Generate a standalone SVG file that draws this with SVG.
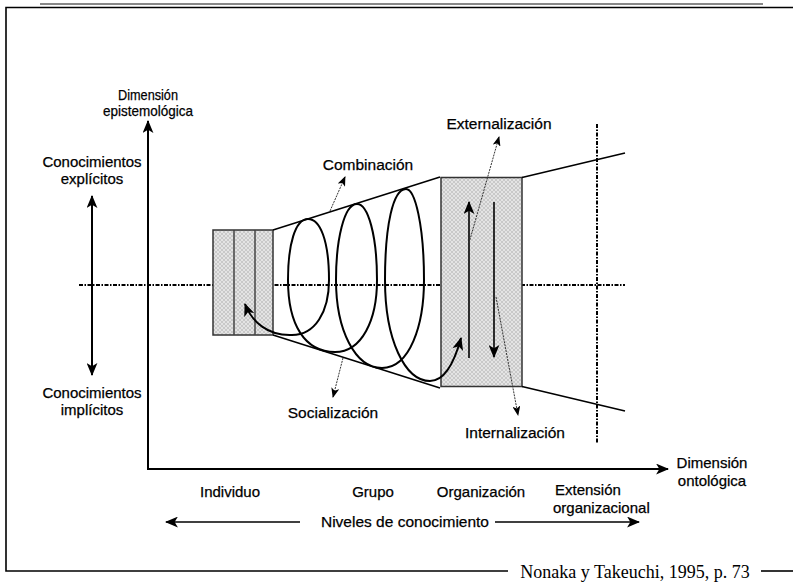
<svg xmlns="http://www.w3.org/2000/svg" width="793" height="583" viewBox="0 0 793 583">
<style>
.t{font-family:"Liberation Sans",Arial,sans-serif;font-size:15px;fill:#000;stroke:#000;stroke-width:0.25}
.c{text-anchor:middle}
.m{font-size:15.5px}
.frame{stroke:#000;stroke-width:1.6;fill:none}
.ax{stroke:#000;stroke-width:2;fill:none}
.dd{stroke:#000;stroke-width:2;stroke-dasharray:4 1.5 1.5 1.5;fill:none}
.dot{stroke:#333;stroke-width:1;stroke-dasharray:2 1;fill:none}
.box{fill:url(#hatch);stroke:#333;stroke-width:1.5}
.ln{stroke:#000;stroke-width:1.6;fill:none}
.sp{stroke:#000;stroke-width:2;fill:none}
</style>
<defs>
<pattern id="hatch" width="4" height="4" patternUnits="userSpaceOnUse">
<rect width="4" height="4" fill="#e4e4e4"/>
<path d="M0,0 L4,4 M4,0 L0,4" stroke="#bdbdbd" stroke-width="0.7"/>
</pattern>
<marker id="arr" viewBox="0 0 12 10" refX="11" refY="5" markerWidth="13" markerHeight="11" markerUnits="userSpaceOnUse" orient="auto-start-reverse">
<path d="M0,0 L12,5 L0,10 L3,5 z" fill="#000"/>
</marker>
<marker id="arrS" viewBox="0 0 10 8" refX="9" refY="4" markerWidth="10" markerHeight="8" markerUnits="userSpaceOnUse" orient="auto-start-reverse">
<path d="M0,0 L10,4 L0,8 L2.5,4 z" fill="#000"/>
</marker>
</defs>
<rect width="793" height="583" fill="#fff"/>

<g id="frame">
<line x1="40" y1="4" x2="763" y2="4" stroke="#888" stroke-width="2"/>
<polyline class="frame" points="793,7.5 6,7.5 6,571 508,571"/>
<line class="frame" x1="761" y1="571" x2="793" y2="571"/>
<text x="635" y="578" style="font-family:'Liberation Serif','Times New Roman',serif;font-size:18px" text-anchor="middle">Nonaka y Takeuchi, 1995, p. 73</text>
</g>

<g id="guides">
<line class="dd" x1="79" y1="285" x2="625" y2="285"/>
<line class="dd" x1="597" y1="124" x2="597" y2="443"/>
</g>

<g id="individuo">
<rect class="box" x="213" y="230" width="60" height="105"/>
<line x1="234" y1="230" x2="234" y2="335" stroke="#444" stroke-width="1.5"/>
<line x1="255" y1="230" x2="255" y2="335" stroke="#444" stroke-width="1.5"/>
</g>

<g id="grupo-cone">
<line class="ln" x1="273" y1="230" x2="440" y2="177"/>
<line class="ln" x1="273" y1="335" x2="440" y2="388"/>
</g>

<g id="organizacion">
<rect class="box" x="441" y="177.5" width="81" height="209"/>
</g>

<g id="extension">
<line class="ln" x1="522" y1="177.5" x2="625" y2="153"/>
<line class="ln" x1="522" y1="386.5" x2="625" y2="411"/>
</g>

<g id="connectors">
<line class="ax" x1="148" y1="470" x2="148" y2="121" marker-end="url(#arr)"/>
<line class="ax" x1="147" y1="469" x2="668" y2="469" marker-end="url(#arr)"/>
<line class="ax" x1="92" y1="196" x2="92" y2="375" marker-start="url(#arr)" marker-end="url(#arr)"/>
<line class="ln" x1="300" y1="522" x2="166" y2="522" marker-end="url(#arr)"/>
<line class="ln" x1="495" y1="522" x2="639" y2="522" marker-end="url(#arr)"/>
<path class="sp" marker-start="url(#arr)" marker-end="url(#arr)" d="M245,304 C252,322 268,336 292,335 C315,335 329,312 329,280 C329,240 320,219 308,219 C295,219 288,245 288,280 C288,325 305,352 335,352 C362,352 377,320 377,280 C377,235 368,204 357,204 C344,204 336,240 336,280 C336,330 355,368 382,368 C410,368 424,325 424,280 C424,225 415,189 406,189 C393,189 385,225 385,280 C385,340 405,381 430,381 C445,381 455,360 461,338"/>
<line class="ln" x1="469" y1="358" x2="469" y2="202" marker-end="url(#arr)"/>
<line class="ln" x1="494" y1="202" x2="494" y2="357" marker-end="url(#arr)"/>
<line class="dot" x1="469" y1="243" x2="499" y2="137" marker-end="url(#arrS)"/>
<line class="dot" x1="496" y1="297" x2="518" y2="415" marker-end="url(#arrS)"/>
<line class="dot" x1="330" y1="211" x2="345" y2="177" marker-end="url(#arrS)"/>
<line class="dot" x1="343" y1="358" x2="333" y2="397" marker-end="url(#arrS)"/>
</g>

<g id="labels">
<text class="t c" x="148" y="100" textLength="60" lengthAdjust="spacingAndGlyphs">Dimensión</text>
<text class="t c" x="148" y="116" textLength="90" lengthAdjust="spacingAndGlyphs">epistemológica</text>
<text class="t c" x="92" y="167">Conocimientos</text>
<text class="t c" x="92" y="184">explícitos</text>
<text class="t c" x="92" y="398">Conocimientos</text>
<text class="t c" x="92" y="415">implícitos</text>
<text class="t c m" x="368" y="170">Combinación</text>
<text class="t c m" x="499" y="129">Externalización</text>
<text class="t c m" x="515" y="438">Internalización</text>
<text class="t c m" x="333" y="418">Socialización</text>
<text class="t c" x="712" y="468">Dimensión</text>
<text class="t c" x="712" y="486">ontológica</text>
<text class="t c" x="230" y="497">Individuo</text>
<text class="t c" x="373" y="497">Grupo</text>
<text class="t c" x="481" y="497">Organización</text>
<text class="t" x="555" y="495">Extensión</text>
<text class="t" x="553" y="513">organizacional</text>
<text class="t c m" x="405" y="527">Niveles de conocimiento</text>
</g>
</svg>
